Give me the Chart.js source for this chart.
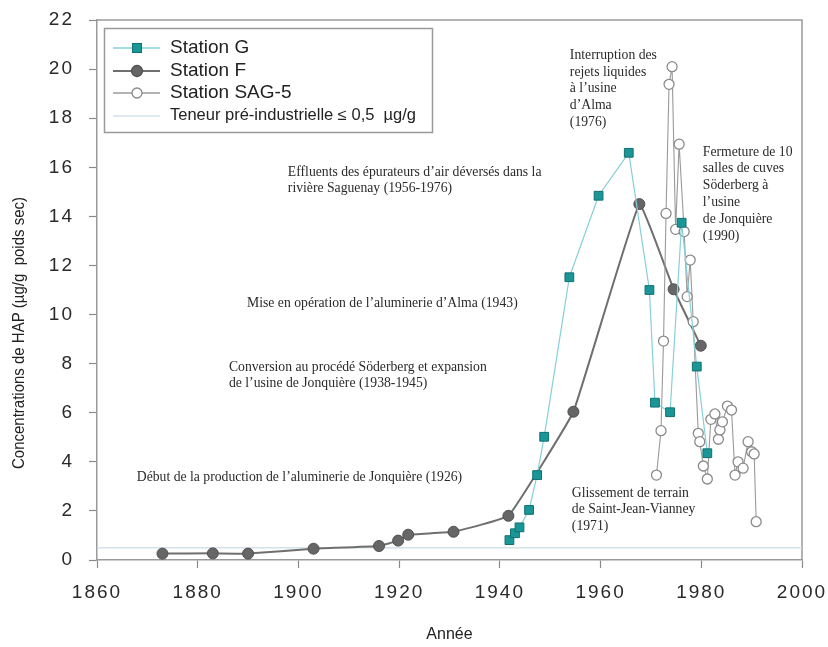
<!DOCTYPE html>
<html>
<head>
<meta charset="utf-8">
<script src="https://cdn.jsdelivr.net/npm/chart.js@4.4.1/dist/chart.umd.min.js"></script>
<style>
html,body{margin:0;padding:0;background:#ffffff;}
#wrap{width:828px;height:647px;}
</style>
</head>
<body>
<div id="wrap"><canvas id="c" width="828" height="647"></canvas></div>
<script>
// ---------- DATA ----------
const seriesNames = ['Station G', 'Station F', 'Station SAG-5', 'Teneur pré-industrielle \u2264 0,5  \u00b5g/g'];

const gYears  = [1941.9, 1943.0, 1943.9, 1945.8, 1947.4, 1948.8, 1953.8, 1959.6, 1965.6, 1969.7, 1970.8, 1973.8, 1976.1, 1979.1, 1981.2];
const gValues = [0.81, 1.09, 1.33, 2.04, 3.46, 5.02, 11.52, 14.84, 16.59, 11.0, 6.41, 6.02, 13.74, 7.88, 4.35];

const fYears  = [1873, 1883, 1890, 1903, 1916, 1919.8, 1921.8, 1930.8, 1941.7, 1954.6, 1967.7, 1974.5, 1979.9];
const fValues = [0.26, 0.27, 0.26, 0.46, 0.57, 0.79, 1.03, 1.15, 1.80, 6.04, 14.50, 11.03, 8.73];

const sagYears  = [1971.1, 1972.0, 1972.5, 1973.0, 1973.6, 1974.2, 1974.9, 1975.6, 1976.6, 1977.2, 1977.8, 1978.4,
                   1979.4, 1979.7, 1980.4, 1981.2, 1981.9, 1982.7, 1983.4, 1983.7, 1984.2, 1985.2, 1986.0,
                   1986.7, 1987.3, 1988.3, 1989.3, 1990.0, 1990.5, 1990.9];
const sagValues = [3.46, 5.27, 8.92, 14.12, 19.38, 20.10, 13.47, 16.94, 13.38, 10.73, 12.22, 9.71,
                   5.16, 4.82, 3.83, 3.30, 5.73, 5.95, 4.92, 5.30, 5.63, 6.27, 6.11,
                   3.46, 4.00, 3.74, 4.82, 4.41, 4.32, 1.56];

const preIndYears  = [1860, 2000];
const preIndValues = [0.5, 0.5];

const xTickValues = [1860, 1880, 1900, 1920, 1940, 1960, 1980, 2000];
const yTickValues = [0, 2, 4, 6, 8, 10, 12, 14, 16, 18, 20, 22];

const xTitle = 'Année';
const yTitle = 'Concentrations de HAP (\u00b5g/g  poids sec)';

const annotationTexts = [
  ['Interruption des', 'rejets liquides', '\u00e0 l\u2019usine', 'd\u2019Alma', '(1976)'],
  ['Effluents des \u00e9purateurs d\u2019air d\u00e9vers\u00e9s dans la', 'rivi\u00e8re Saguenay (1956-1976)'],
  ['Fermeture de 10', 'salles de cuves', 'S\u00f6derberg \u00e0', 'l\u2019usine', 'de Jonqui\u00e8re', '(1990)'],
  ['Mise en op\u00e9ration de l\u2019aluminerie d\u2019Alma (1943)'],
  ['Conversion au proc\u00e9d\u00e9 S\u00f6derberg et expansion', 'de l\u2019usine de Jonqui\u00e8re (1938-1945)'],
  ['D\u00e9but de la production de l\u2019aluminerie de Jonqui\u00e8re (1926)'],
  ['Glissement de terrain', 'de Saint-Jean-Vianney', '(1971)']
];

// ---------- LAYOUT / STYLE (not data) ----------
const annotationAnchors = [
  {year: 1953.9, value: 20.57},
  {year: 1897.9, value: 15.81},
  {year: 1980.3, value: 16.62},
  {year: 1889.8, value: 10.47},
  {year: 1886.2, value: 7.86},
  {year: 1867.9, value: 3.38},
  {year: 1954.3, value: 2.73}
];

const pts = (xs, ys) => xs.map((x, i) => ({x: x, y: ys[i]}));

const styles = {
  g:   {line: '#86d0da', fill: '#1b9698', border: '#107070'},
  f:   {line: '#6f6f6f', fill: '#666666', border: '#505050'},
  sag: {line: '#9a9a9a', fill: '#ffffff', border: '#8a8a8a'},
  pre: {line: '#d3e2e5'}
};

const framePlugin = {
  id: 'frame',
  beforeDraw(chart) {
    Object.values(chart.scales).forEach(s => {
      if (!s.__wrapped) {
        const orig = s.drawLabels.bind(s);
        s.drawLabels = function (area) {
          const ctx = this.ctx;
          ctx.save();
          ctx.letterSpacing = '2px';
          orig(area);
          ctx.restore();
        };
        s.__wrapped = true;
      }
    });
  },
  beforeDatasetsDraw(chart) {
    const {ctx, chartArea: a} = chart;
    ctx.save();
    ctx.strokeStyle = '#9a9a9a';
    ctx.lineWidth = 1.5;
    ctx.beginPath();
    ctx.moveTo(a.left, a.top);
    ctx.lineTo(a.right, a.top);
    ctx.lineTo(a.right, a.bottom);
    ctx.stroke();
    ctx.restore();
  },
  afterDraw(chart) {
    const {ctx} = chart;
    const xs = chart.scales.x, ys = chart.scales.y;
    ctx.save();
    ctx.letterSpacing = '0px';

    // y-axis title (condensed)
    ctx.save();
    ctx.font = '16px "Liberation Sans", Arial, sans-serif';
    const w = ctx.measureText(yTitle).width;
    ctx.translate(20, 333);
    ctx.rotate(-Math.PI / 2);
    ctx.scale(272 / w, 1);
    ctx.fillStyle = '#222';
    ctx.textAlign = 'center';
    ctx.textBaseline = 'middle';
    ctx.fillText(yTitle, 0, 0);
    ctx.restore();

    // annotations
    ctx.font = '13.7px "Liberation Serif", "Times New Roman", serif';
    ctx.fillStyle = '#2a2a2a';
    ctx.textAlign = 'left';
    ctx.textBaseline = 'middle';
    annotationTexts.forEach((lines, i) => {
      const an = annotationAnchors[i];
      const x = xs.getPixelForValue(an.year);
      const y = ys.getPixelForValue(an.value);
      lines.forEach((t, j) => ctx.fillText(t, x, y + j * 16.8));
    });

    // legend
    const bx = 104.5, by = 28.5, bw = 328, bh = 104;
    ctx.strokeStyle = '#9a9a9a';
    ctx.lineWidth = 1.5;
    ctx.strokeRect(bx, by, bw, bh);
    const rows = [48, 71, 93, 116];
    const lx0 = 113, lx1 = 160, mx = 137;
    const drawSample = (y, st, kind) => {
      ctx.strokeStyle = st.line;
      ctx.lineWidth = kind === 'f' ? 2 : 1.3;
      ctx.beginPath(); ctx.moveTo(lx0, y); ctx.lineTo(lx1, y); ctx.stroke();
      if (kind === 'g') {
        ctx.fillStyle = st.fill; ctx.strokeStyle = st.border; ctx.lineWidth = 1;
        ctx.fillRect(mx - 4.5, y - 4.5, 9, 9); ctx.strokeRect(mx - 4.5, y - 4.5, 9, 9);
      } else if (kind === 'f' || kind === 's') {
        ctx.beginPath(); ctx.arc(mx, y, kind === 'f' ? 5.5 : 5, 0, Math.PI * 2);
        ctx.fillStyle = st.fill; ctx.fill();
        ctx.strokeStyle = st.border; ctx.lineWidth = 1.3; ctx.stroke();
      }
    };
    drawSample(rows[0], styles.g, 'g');
    drawSample(rows[1], styles.f, 'f');
    drawSample(rows[2], styles.sag, 's');
    drawSample(rows[3], styles.pre, 'p');
    ctx.fillStyle = '#222';
    ctx.textAlign = 'left';
    ctx.textBaseline = 'middle';
    ctx.font = '19px "Liberation Sans", Arial, sans-serif';
    ctx.fillText(seriesNames[0], 170, rows[0]);
    ctx.fillText(seriesNames[1], 170, rows[1]);
    ctx.fillText(seriesNames[2], 170, rows[2]);
    ctx.save();
    ctx.font = '16px "Liberation Sans", Arial, sans-serif';
    const tw = ctx.measureText(seriesNames[3]).width;
    ctx.translate(170, rows[3]);
    ctx.scale(246 / tw, 1);
    ctx.fillText(seriesNames[3], 0, 0);
    ctx.restore();

    ctx.restore();
  }
};

const chart = new Chart(document.getElementById('c'), {
  type: 'scatter',
  data: {
    datasets: [
      {
        label: seriesNames[0], data: pts(gYears, gValues), showLine: true,
        borderColor: styles.g.line, borderWidth: 1.2,
        pointStyle: 'rect', pointRadius: 6.2, pointBackgroundColor: styles.g.fill,
        pointBorderColor: styles.g.border, pointBorderWidth: 1, order: 0
      },
      {
        label: seriesNames[2], data: pts(sagYears, sagValues), showLine: true,
        borderColor: styles.sag.line, borderWidth: 1.1,
        pointStyle: 'circle', pointRadius: 5, pointBackgroundColor: styles.sag.fill,
        pointBorderColor: styles.sag.border, pointBorderWidth: 1.3, order: 1
      },
      {
        label: seriesNames[1], data: pts(fYears, fValues), showLine: true,
        borderColor: styles.f.line, borderWidth: 2, tension: 0.08,
        pointStyle: 'circle', pointRadius: 5.5, pointBackgroundColor: styles.f.fill,
        pointBorderColor: styles.f.border, pointBorderWidth: 1, order: 2
      },
      {
        label: seriesNames[3], data: pts(preIndYears, preIndValues), showLine: true,
        borderColor: styles.pre.line, borderWidth: 1.5, pointRadius: 0, order: 3
      }
    ]
  },
  options: {
    responsive: false,
    animation: false,
    devicePixelRatio: 1,
    layout: {padding: {left: 0, top: 20, right: 26, bottom: 0}},
    plugins: {legend: {display: false}, tooltip: {enabled: false}, title: {display: false}},
    scales: {
      x: {
        type: 'linear', min: 1860, max: 2000,
        afterBuildTicks: s => { s.ticks = xTickValues.map(v => ({value: v})); },
        afterFit: s => { s.height = 87; s.paddingLeft = 0; s.paddingRight = 0; },
        ticks: {
          callback: v => String(v), color: '#2a2a2a', padding: 13, maxRotation: 0,
          font: {family: '"Liberation Sans", Arial, sans-serif', size: 19}
        },
        grid: {drawOnChartArea: false, drawTicks: true, tickLength: 8, tickColor: '#8a8a8a', tickWidth: 1.2},
        border: {display: true, color: '#9a9a9a', width: 1.5},
        title: {
          display: true, text: xTitle, color: '#222',
          font: {family: '"Liberation Sans", Arial, sans-serif', size: 16},
          padding: {top: 0, bottom: 3}
        }
      },
      y: {
        type: 'linear', min: 0, max: 22,
        afterBuildTicks: s => { s.ticks = yTickValues.map(v => ({value: v})); },
        afterFit: s => { s.width = 97; s.paddingTop = 0; s.paddingBottom = 0; },
        ticks: {
          callback: v => String(v), color: '#2a2a2a', padding: 15,
          font: {family: '"Liberation Sans", Arial, sans-serif', size: 19}
        },
        grid: {drawOnChartArea: false, drawTicks: true, tickLength: 8, tickColor: '#8a8a8a', tickWidth: 1.2},
        border: {display: true, color: '#9a9a9a', width: 1.5}
      }
    }
  },
  plugins: [framePlugin]
});
</script>
</body>
</html>
